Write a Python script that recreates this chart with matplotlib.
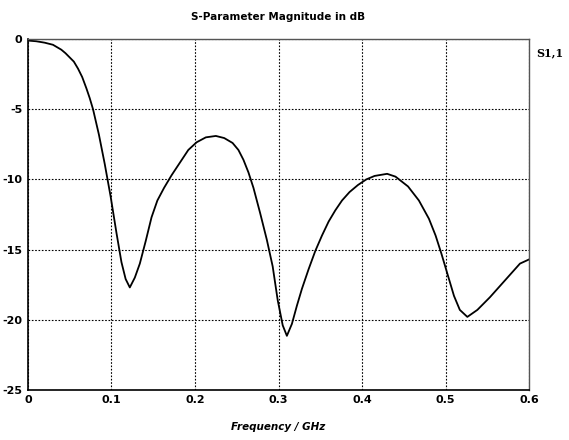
import matplotlib
matplotlib.use("Agg")
import matplotlib.pyplot as plt

# S1,1 magnitude (GHz, dB)
freq = [0.000, 0.010, 0.020, 0.030, 0.040, 0.045, 0.050, 0.055, 0.060, 0.065,
        0.070, 0.074, 0.078, 0.085, 0.092, 0.099, 0.106, 0.112, 0.117, 0.122,
        0.128, 0.134, 0.141, 0.148, 0.155, 0.163, 0.172, 0.182, 0.192, 0.202,
        0.213, 0.225, 0.235, 0.245, 0.252, 0.258, 0.264, 0.270, 0.278, 0.286,
        0.293, 0.299, 0.305, 0.310, 0.316, 0.322, 0.328, 0.336, 0.344, 0.352,
        0.360, 0.368, 0.376, 0.385, 0.395, 0.405, 0.415, 0.430, 0.440, 0.455,
        0.468, 0.480, 0.488, 0.495, 0.503, 0.510, 0.517, 0.526, 0.538, 0.553,
        0.574, 0.589, 0.600]
s11_db = [-0.1, -0.15, -0.25, -0.4, -0.75, -1.0, -1.3, -1.6, -2.1, -2.7,
          -3.5, -4.2, -5.0, -6.8, -8.9, -11.2, -13.8, -15.9, -17.1, -17.7,
          -17.0, -16.0, -14.4, -12.7, -11.5, -10.6, -9.7, -8.8, -7.9, -7.35,
          -7.0, -6.9, -7.05, -7.4, -7.9, -8.6, -9.5, -10.6, -12.4, -14.3,
          -16.2, -18.6, -20.4, -21.15, -20.3, -19.0, -17.8, -16.4, -15.1, -14.0,
          -13.0, -12.2, -11.5, -10.9, -10.4, -10.0, -9.75, -9.6, -9.8, -10.5,
          -11.5, -12.8, -14.0, -15.3, -16.9, -18.3, -19.3, -19.8, -19.3, -18.4,
          -17.0, -16.0, -15.7]

xticks = [0, 0.1, 0.2, 0.3, 0.4, 0.5, 0.6]
yticks = [0, -5, -10, -15, -20, -25]

plt.rcParams["font.family"] = "DejaVu Sans"

fig = plt.figure(figsize=(5.69, 4.4), dpi=100)
ax = fig.add_axes([0.049, 0.114, 0.881, 0.797])

ax.plot(freq, s11_db, color="black", lw=1.3)

ax.set_xlim(0, 0.6)
ax.set_ylim(-25, 0)
ax.set_xticks(xticks)
ax.set_xticklabels([("%g" % t) for t in xticks], fontsize=8, fontweight="bold")
ax.set_yticks(yticks)
ax.set_yticklabels([str(t) for t in yticks], fontsize=8, fontweight="bold")
ax.tick_params(length=0, pad=4)
ax.grid(True, color="black", ls=(0, (1.5, 1.5)), lw=0.8)

for side in ["left", "bottom"]:
    ax.spines[side].set_linewidth(1.2)
for side in ["top", "right"]:
    ax.spines[side].set_linewidth(1.0)
    ax.spines[side].set_color("#555555")

ax.set_title("S-Parameter Magnitude in dB", fontsize=7.5, fontweight="bold", pad=14)
ax.set_xlabel("Frequency / GHz", fontsize=7.5, fontweight="bold", style="italic", labelpad=12)
ax.text(1.015, 0.96, "S1,1", transform=ax.transAxes, fontsize=8, fontweight="bold",
        ha="left", va="center", family="DejaVu Serif")

fig.savefig("out.png", dpi=100)
